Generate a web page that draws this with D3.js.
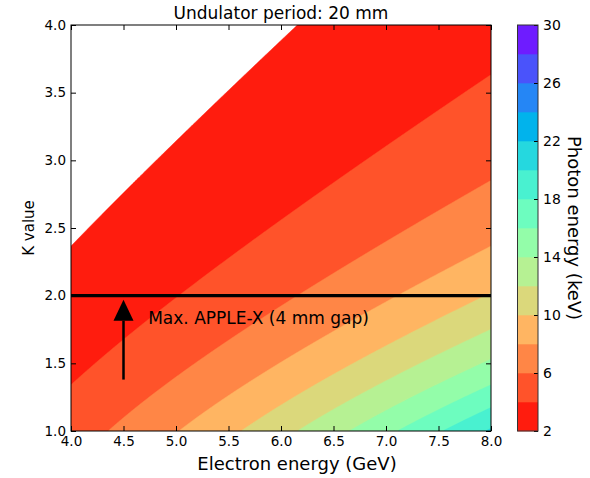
<!DOCTYPE html>
<html>
<head>
<meta charset="utf-8">
<script src="https://cdn.jsdelivr.net/npm/d3@7"></script>
<style>
  html, body { margin: 0; padding: 0; background: #fff; }
  svg { display: block; font-family: "DejaVu Sans", sans-serif; }
</style>
</head>
<body>
<svg id="chart" width="590" height="478"></svg>
<script>
// ---------- data ----------
const title = "Undulator period: 20 mm";
const undulatorPeriodCm = 2.0;            // 20 mm
const electronDomain = [4.0, 8.0];        // GeV
const kDomain = [1.0, 4.0];
const electronTicks = [4.0, 4.5, 5.0, 5.5, 6.0, 6.5, 7.0, 7.5, 8.0];
const kTicks = [1.0, 1.5, 2.0, 2.5, 3.0, 3.5, 4.0];
const levels = [2, 4, 6, 8, 10, 12, 14, 16, 18, 20, 22, 24, 26, 28, 30];
const colorbarTicks = [2, 6, 10, 14, 18, 22, 26, 30];
const appleXMaxK = 2.0;
const arrowE = 4.5;
const arrowFromK = 1.38;
const arrowToK = 1.97;
const annotationText = "Max. APPLE-X (4 mm gap)";
const annotationAt = [4.735, 1.79];

// undulator first-harmonic photon energy (keV) = 0.950 * E^2 / (lambda_u[cm] * (1 + K^2/2))
function photonEnergy(eGeV, K) {
  return 0.950 * eGeV * eGeV / (undulatorPeriodCm * (1 + K * K / 2));
}

// ---------- layout ----------
const plot = { left: 71, right: 491, top: 25, bottom: 431 };
const cbar = { left: 517.5, right: 538 };
const FONT = "DejaVu Sans";

const svg = d3.select("#chart");
const x = d3.scaleLinear().domain(electronDomain).range([plot.left, plot.right]);
const y = d3.scaleLinear().domain(kDomain).range([plot.bottom, plot.top]);

// matplotlib "rainbow_r" (256-entry LUT)
function rainbowR(t) {
  let idx = Math.min(255, Math.max(0, Math.floor(t * 256)));
  const v = (255 - idx) / 255;
  const cl = a => Math.max(0, Math.min(1, a));
  const r = cl(Math.abs(2 * v - 0.5)), g = cl(Math.sin(Math.PI * v)), b = cl(Math.cos(Math.PI * v / 2));
  return d3.rgb(Math.round(r * 255), Math.round(g * 255), Math.round(b * 255)).toString();
}
const lo = levels[0], hi = levels[levels.length - 1];
const bandColor = i => rainbowR(((levels[i] + levels[i + 1]) / 2 - lo) / (hi - lo));

// ---------- contour field ----------
const n = 420, m = 406;
const values = new Float64Array(n * m);
for (let j = 0; j < m; j++) {
  const K = kDomain[0] + (j + 0.5) / m * (kDomain[1] - kDomain[0]);
  for (let i = 0; i < n; i++) {
    const E = electronDomain[0] + (i + 0.5) / n * (electronDomain[1] - electronDomain[0]);
    values[i + j * n] = photonEnergy(E, K);
  }
}
const contours = d3.contours().size([n, m]).thresholds(levels.slice(0, -1))(values);
const proj = d3.geoTransform({
  point: function (gx, gy) {
    this.stream.point(
      x(electronDomain[0] + gx / n * (electronDomain[1] - electronDomain[0])),
      y(kDomain[0] + gy / m * (kDomain[1] - kDomain[0]))
    );
  }
});
const path = d3.geoPath(proj);

svg.append("clipPath").attr("id", "clip").append("rect")
  .attr("x", plot.left).attr("y", plot.top)
  .attr("width", plot.right - plot.left).attr("height", plot.bottom - plot.top);

const gC = svg.append("g").attr("clip-path", "url(#clip)");
gC.selectAll("path").data(contours).join("path")
  .attr("d", path)
  .attr("fill", (d, i) => bandColor(i))
  .attr("stroke", (d, i) => bandColor(i))
  .attr("stroke-width", 0.5);

// ---------- annotation ----------
svg.append("line")
  .attr("x1", x(electronDomain[0])).attr("x2", x(electronDomain[1]))
  .attr("y1", y(appleXMaxK)).attr("y2", y(appleXMaxK))
  .attr("stroke", "#000").attr("stroke-width", 3.3);

const headLen = 21, headHalf = 10;
const ax = x(arrowE), tipY = y(arrowToK), baseY = tipY + headLen;
svg.append("line")
  .attr("x1", ax).attr("x2", ax).attr("y1", y(arrowFromK)).attr("y2", baseY)
  .attr("stroke", "#000").attr("stroke-width", 2.5);
svg.append("path")
  .attr("d", `M${ax},${tipY}L${ax - headHalf},${baseY}L${ax + headHalf},${baseY}Z`)
  .attr("fill", "#000");
svg.append("text")
  .attr("x", x(annotationAt[0])).attr("y", y(annotationAt[1]))
  .attr("font-size", 17).attr("fill", "#000")
  .text(annotationText);

// ---------- axes ----------
const tickLen = 5;
const axB = svg.append("g").attr("transform", `translate(0,${plot.bottom})`)
  .call(d3.axisBottom(x).tickValues(electronTicks).tickSize(-tickLen).tickPadding(5).tickFormat(d3.format(".1f")));
const axT = svg.append("g").attr("transform", `translate(0,${plot.top})`)
  .call(d3.axisTop(x).tickValues(electronTicks).tickSize(-tickLen).tickFormat(""));
const axL = svg.append("g").attr("transform", `translate(${plot.left},0)`)
  .call(d3.axisLeft(y).tickValues(kTicks).tickSize(-tickLen).tickPadding(5).tickFormat(d3.format(".1f")));
const axR = svg.append("g").attr("transform", `translate(${plot.right},0)`)
  .call(d3.axisRight(y).tickValues(kTicks).tickSize(-tickLen).tickFormat(""));
[axB, axT, axL, axR].forEach(g => {
  g.select(".domain").remove();
  g.selectAll("line").attr("stroke", "#000").attr("stroke-width", 1);
  g.selectAll("text").attr("font-size", 13.5).attr("font-family", FONT).attr("fill", "#000");
});
axB.selectAll("text").attr("dy", "0.75em");

svg.append("rect")
  .attr("x", plot.left).attr("y", plot.top)
  .attr("width", plot.right - plot.left).attr("height", plot.bottom - plot.top)
  .attr("fill", "none").attr("stroke", "#000").attr("stroke-width", 1);

// ---------- colorbar ----------
const c = d3.scaleLinear().domain([lo, hi]).range([plot.bottom, plot.top]);
svg.append("g").selectAll("rect").data(levels.slice(0, -1)).join("rect")
  .attr("x", cbar.left).attr("width", cbar.right - cbar.left)
  .attr("y", (d, i) => c(levels[i + 1]))
  .attr("height", (d, i) => c(levels[i]) - c(levels[i + 1]) + 0.3)
  .attr("fill", (d, i) => bandColor(i));
const axC = svg.append("g").attr("transform", `translate(${cbar.right},0)`)
  .call(d3.axisRight(c).tickValues(colorbarTicks).tickSize(-4).tickPadding(5).tickFormat(d3.format("d")));
axC.select(".domain").remove();
axC.selectAll("line").attr("stroke", "#000");
axC.selectAll("text").attr("font-size", 14).attr("font-family", FONT).attr("fill", "#000");
svg.append("rect")
  .attr("x", cbar.left).attr("y", plot.top)
  .attr("width", cbar.right - cbar.left).attr("height", plot.bottom - plot.top)
  .attr("fill", "none").attr("stroke", "#333").attr("stroke-width", 1);

// ---------- labels ----------
svg.append("text")
  .attr("x", (plot.left + plot.right) / 2).attr("y", 19)
  .attr("text-anchor", "middle").attr("font-size", 17).attr("fill", "#000")
  .text(title);
svg.append("text")
  .attr("x", 297).attr("y", 470)
  .attr("text-anchor", "middle").attr("font-size", 18).attr("fill", "#000")
  .text("Electron energy (GeV)");
svg.append("text")
  .attr("transform", `translate(34,${(plot.top + plot.bottom) / 2}) rotate(-90)`)
  .attr("text-anchor", "middle").attr("font-size", 15).attr("fill", "#000")
  .text("K value");
svg.append("text")
  .attr("transform", `translate(568,${(plot.top + plot.bottom) / 2}) rotate(90)`)
  .attr("text-anchor", "middle").attr("font-size", 18).attr("fill", "#000")
  .text("Photon energy (keV)");
</script>
</body>
</html>
